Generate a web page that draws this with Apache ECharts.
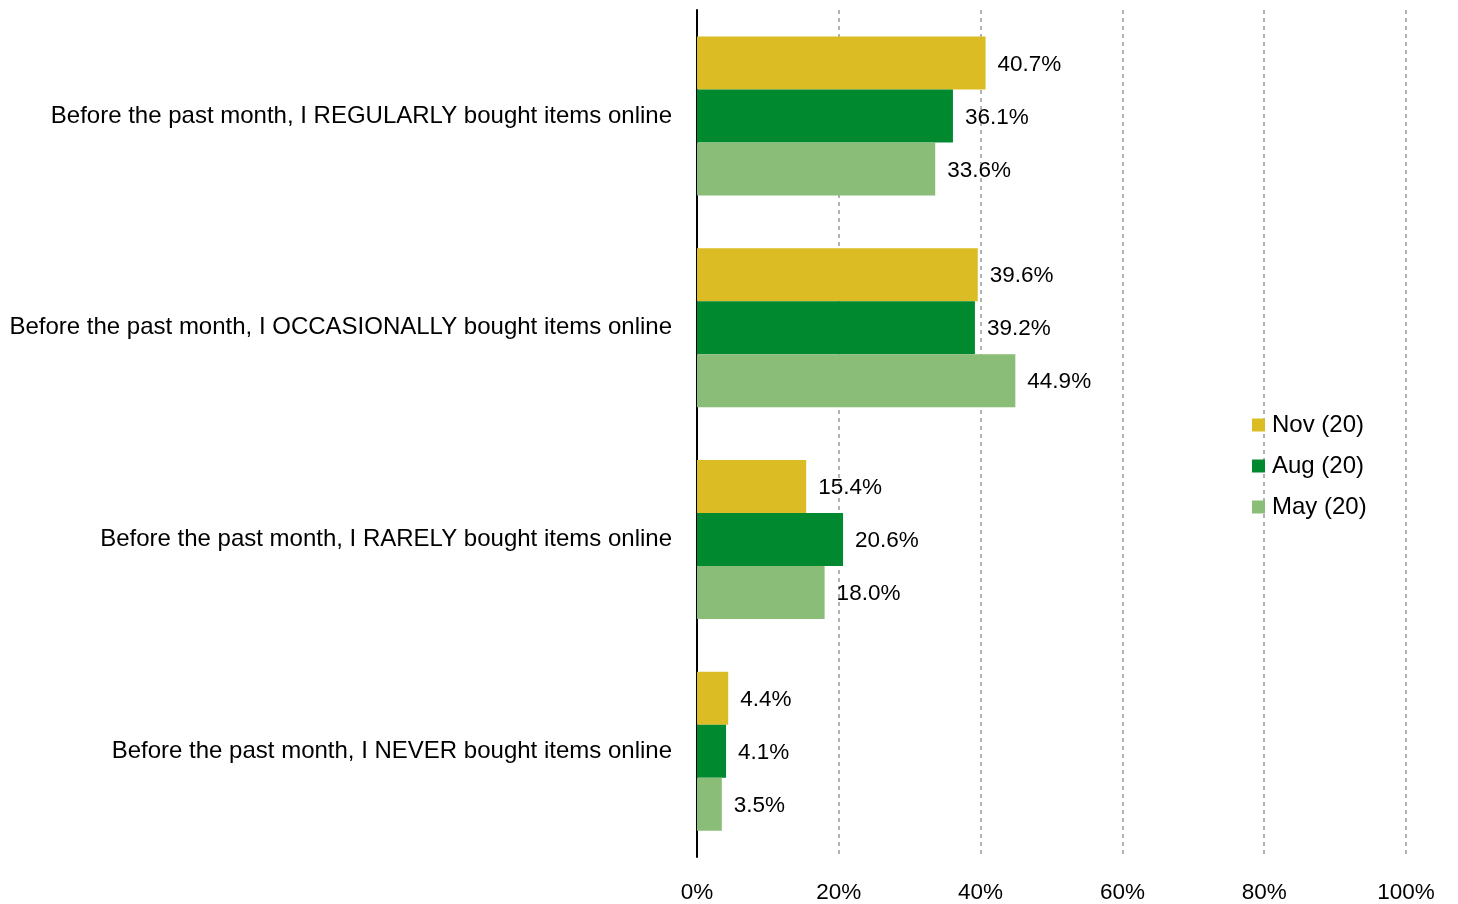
<!DOCTYPE html>
<html>
<head>
<meta charset="utf-8">
<script src="https://cdn.jsdelivr.net/npm/echarts@6/dist/echarts.min.js"></script>
<style>html,body{margin:0;padding:0;background:#fff}#c{width:1458px;height:904px}</style>
</head>
<body>
<div id="c"></div>
<script>
const categories = [
  "Before the past month, I REGULARLY bought items online",
  "Before the past month, I OCCASIONALLY bought items online",
  "Before the past month, I RARELY bought items online",
  "Before the past month, I NEVER bought items online"
];
const seriesNames = ["Nov (20)", "Aug (20)", "May (20)"];
const nov = [40.7, 39.6, 15.4, 4.4];
const aug = [36.1, 39.2, 20.6, 4.1];
const may = [33.6, 44.9, 18.0, 3.5];
const xTicks = [0, 20, 40, 60, 80, 100];

const colors = ["#DBBC25", "#00892E", "#8ABD78"];
const font = "'Liberation Sans', Arial, sans-serif";
const chart = echarts.init(document.getElementById('c'));
const mk = (name, data, color) => ({
  name, type: 'bar', data, barWidth: 53, barGap: '0%',
  itemStyle: { color },
  label: { show: true, position: 'right', distance: 12, color: '#000', fontFamily: font, fontSize: 22.5,
    offset: [0, 1.5], formatter: p => p.value.toFixed(1) + '%' }
});
chart.setOption({
  animation: false,
  textStyle: { fontFamily: font },
  grid: { left: 697, top: 10, width: 709, height: 847, containLabel: false },
  legend: {
    orient: 'vertical', left: 1247, top: 408, itemWidth: 13, itemHeight: 13, itemGap: 17,
    icon: 'rect', data: seriesNames,
    textStyle: { fontFamily: font, fontSize: 24, color: '#000', padding: [0, 0, 0, 2] }
  },
  xAxis: {
    type: 'value', min: 0, max: 100, interval: 20,
    axisLine: { show: false }, axisTick: { show: false },
    axisLabel: { margin: 24, fontFamily: font, fontSize: 22.5, color: '#000',
      formatter: v => xTicks.includes(v) ? v + '%' : '' },
    splitLine: { show: true, lineStyle: { color: '#999', type: [4, 4], width: 1.5 } }
  },
  yAxis: {
    type: 'category', data: categories, inverse: true,
    axisLine: { show: true, lineStyle: { color: '#000', width: 2 } },
    axisTick: { show: false },
    axisLabel: { margin: 25, fontFamily: font, fontSize: 24, color: '#000' }
  },
  series: [mk(seriesNames[0], nov, colors[0]), mk(seriesNames[1], aug, colors[1]), mk(seriesNames[2], may, colors[2])]
});
</script>
</body>
</html>
